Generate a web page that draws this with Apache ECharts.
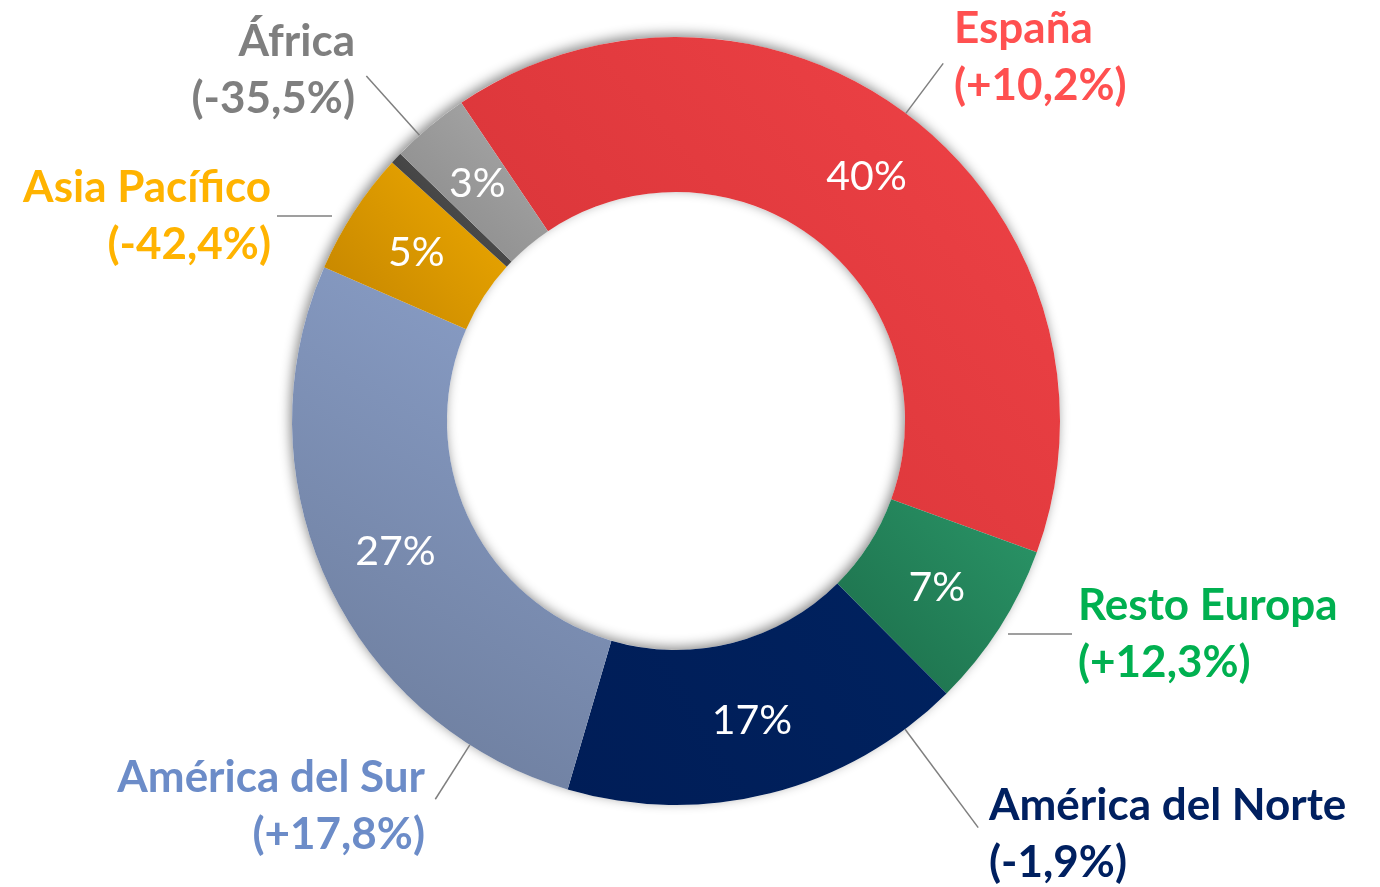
<!DOCTYPE html>
<html>
<head>
<meta charset="utf-8">
<script src="https://cdn.jsdelivr.net/npm/echarts@6/dist/echarts.min.js"></script>
<style>
  html, body { margin: 0; background: #fff; }
  #chart { width: 1380px; height: 887px; }
</style>
</head>
<body>
<div id="chart"></div>
<script>
// slices, clockwise starting at the top-left
var regions = ['España', 'Resto Europa', 'América del Norte', 'América del Sur', 'Asia Pacífico', 'Otros', 'África'];
var shares = [40, 7, 17, 27, 5.2, 0.5, 3.3];
var changes = ['+10,2%', '+12,3%', '-1,9%', '+17,8%', '-42,4%', '', '-35,5%'];

// [light, dark] fill per slice
var sliceColors = [
  ['#F04347', '#D33135'],
  ['#2A9668', '#1C6C49'],
  ['#00225F', '#001D57'],
  ['#8CA1CB', '#6A7A99'],
  ['#F0AB00', '#C28300'],
  ['#5C5C5C', '#333333'],
  ['#AAAAAA', '#878787']
];
var textColors = ['#FF5050', '#00B050', '#002060', '#6C8CC8', '#FFB300', '#7F7F7F', '#7F7F7F'];

// anchor of each outer label (inner side, vertical middle); len > 0 = flat leader line
var labelSpots = [
  { x: 948, y: 57, align: 'left', len: 0 },
  { x: 1072, y: 634, align: 'left', len: 64 },
  { x: 983, y: 834, align: 'left', len: 0 },
  { x: 431, y: 806, align: 'right', len: 0 },
  { x: 277, y: 216, align: 'right', len: 55 },
  null,
  { x: 361, y: 70, align: 'right', len: 0 }
];

var center = [676, 421];
var radius = [229, 384];
var startAngle = 124;

function fill(i) {
  return new echarts.graphic.LinearGradient(1, 0, 0, 1, [
    { offset: 0, color: sliceColors[i][0] },
    { offset: 1, color: sliceColors[i][1] }
  ]);
}

// angular range of each slice, degrees clockwise from 12 o'clock
var total = shares.reduce(function (a, b) { return a + b; }, 0);
var ranges = [];
var acc = 90 - startAngle;
shares.forEach(function (v) {
  var span = v / total * 360;
  ranges.push([acc, span]);
  acc += span;
});

// leader line: from the ring edge facing the label to the label
function leader(i, s) {
  var end = [s.x, s.y];
  if (s.len > 0) {
    var dir = s.align === 'left' ? -1 : 1;
    return [[s.x + dir * s.len, s.y], end];
  }
  var dx = s.x - center[0], dy = s.y - center[1];
  var phi = Math.atan2(dx, -dy) * 180 / Math.PI;
  var a0 = ranges[i][0], span = ranges[i][1], m = 2;
  var rel = (((phi - a0) % 360) + 360) % 360;
  if (rel > span - m) rel = (rel - span < 360 - rel) ? span - m : m;
  if (rel < m) rel = m;
  var a = (a0 + rel) * Math.PI / 180;
  var start = [center[0] + radius[1] * Math.sin(a), center[1] - radius[1] * Math.cos(a)];
  // stop a little short of the text
  var lx = end[0] - start[0], ly = end[1] - start[1];
  var d = Math.sqrt(lx * lx + ly * ly);
  var pull = 8 / d;
  return [start, [end[0] - lx * pull, end[1] - ly * pull]];
}

var chart = echarts.init(document.getElementById('chart'));

var option = {
  animation: false,
  series: [
    // soft shadow under the ring
    {
      type: 'pie',
      silent: true,
      center: center,
      radius: radius,
      z: 1,
      label: { show: false },
      labelLine: { show: false },
      itemStyle: {
        color: '#ffffff',
        shadowBlur: 12,
        shadowColor: 'rgba(0,0,0,0.45)',
        shadowOffsetX: -2,
        shadowOffsetY: -3
      },
      data: [{ name: 'ring', value: 1 }]
    },
    // coloured slices with the share inside
    {
      type: 'pie',
      silent: true,
      center: center,
      radius: radius,
      startAngle: startAngle,
      avoidLabelOverlap: false,
      z: 2,
      label: {
        show: true,
        position: 'inside',
        color: '#fff',
        fontFamily: 'Lato',
        fontSize: 41,
        formatter: function (p) {
          return p.value >= 1 ? Math.round(p.value) + '%' : '';
        }
      },
      labelLine: { show: false },
      data: regions.map(function (name, i) {
        return { name: name, value: shares[i], itemStyle: { color: fill(i) } };
      })
    },
    // invisible copy that carries the outer labels
    {
      type: 'pie',
      silent: true,
      center: center,
      radius: radius,
      startAngle: startAngle,
      avoidLabelOverlap: false,
      z: 3,
      itemStyle: { color: 'rgba(0,0,0,0)' },
      label: {
        show: true,
        position: 'outside',
        fontFamily: 'Lato',
        fontWeight: 'bold',
        fontSize: 44,
        lineHeight: 57,
        padding: [0, 6],
        formatter: function (p) {
          return p.name + '\n(' + changes[p.dataIndex] + ')';
        }
      },
      labelLine: {
        show: true,
        lineStyle: { color: '#7F7F7F', width: 1.5 }
      },
      labelLayout: function (p) {
        var s = labelSpots[p.dataIndex];
        if (!s) return {};
        return {
          x: s.x,
          y: s.y,
          align: s.align,
          verticalAlign: 'middle',
          labelLinePoints: leader(p.dataIndex, s)
        };
      },
      data: regions.map(function (name, i) {
        var on = changes[i] !== '';
        return {
          name: name,
          value: shares[i],
          label: { show: on, color: textColors[i] },
          labelLine: { show: on }
        };
      })
    }
  ]
};

chart.setOption(option);
</script>
</body>
</html>
